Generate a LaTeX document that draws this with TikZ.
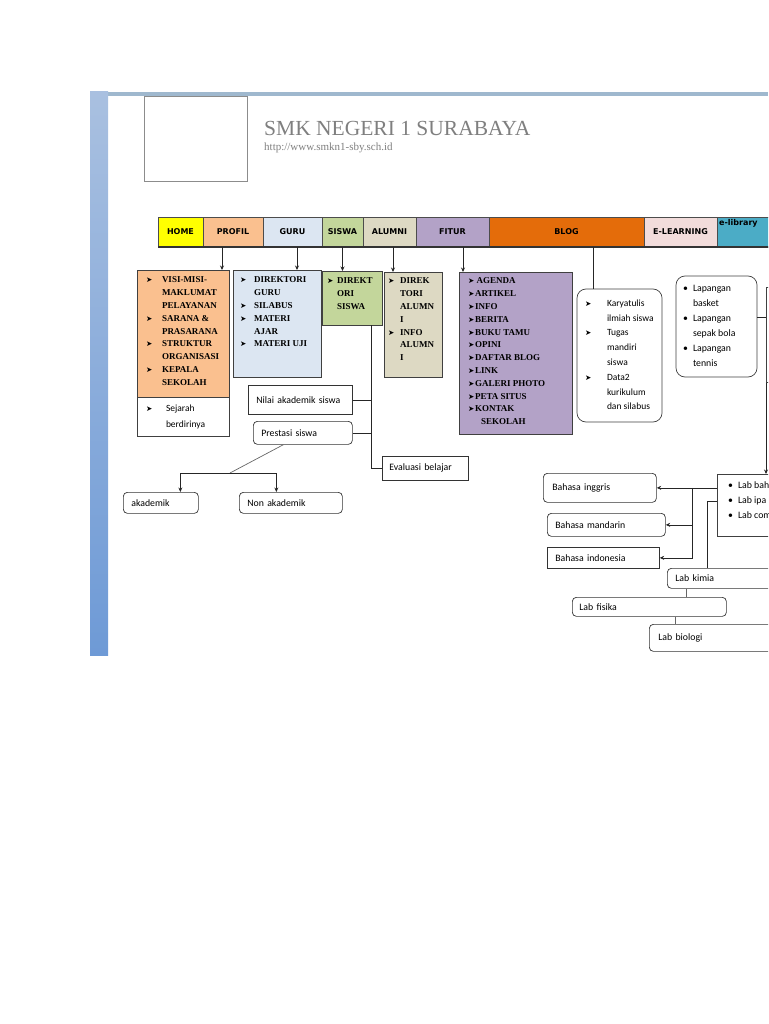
\documentclass[tikz,border=0pt]{standalone}
\usepackage{fontspec}
\setmainfont{Liberation Serif}
\newfontfamily\calfont{Carlito}
\newfontfamily\menufont{DejaVu Sans}
\usetikzlibrary{arrows.meta,calc,positioning}
\definecolor{cHome}{HTML}{FFFF00}
\definecolor{cProfil}{HTML}{FAC08F}
\definecolor{cGuru}{HTML}{DCE6F2}
\definecolor{cSiswa}{HTML}{C3D69B}
\definecolor{cAlumni}{HTML}{DDD9C3}
\definecolor{cFitur}{HTML}{B3A2C7}
\definecolor{cBlog}{HTML}{E46C0A}
\definecolor{cElearn}{HTML}{F2DCDB}
\definecolor{cElib}{HTML}{4BACC6}
\definecolor{cFrame}{HTML}{9FB8CE}
\definecolor{cBarTop}{HTML}{A9C0E0}
\definecolor{cBarMid}{HTML}{5680BA}
\definecolor{cBarBot}{HTML}{6E9AD6}
\definecolor{cTitle}{HTML}{7F7F7F}
\newcommand{\mk}{{\menufont\fontsize{7.5}{7.5}\selectfont ➤}}
\newcommand{\inbox}[3]{\parbox[t][#2][t]{#1}{#3}}
\tikzset{
  menu/.style     = {draw=black!70, minimum height=30pt, inner sep=0pt, outer sep=0pt,
                     anchor=north west, font=\menufont\bfseries\fontsize{8}{9}\selectfont},
  listbox/.style  = {draw=black!75, line width=0.7pt, anchor=north west, outer sep=0pt,
                     font=\bfseries\fontsize{9}{12.8}\selectfont},
  softlist/.style = {listbox, rounded corners=9pt},
  plainbox/.style = {draw=black!80, line width=0.7pt, anchor=north west, align=left,
                     inner ysep=0pt, inner xsep=8pt, font=\calfont\fontsize{9.8}{12}\selectfont},
  softbox/.style  = {plainbox, rounded corners=4pt},
  link/.style     = {line width=0.7pt, black!85},
  arr/.style      = {link, -{Stealth[length=4.5pt,width=4pt]}},
}

\begin{document}
\begin{tikzpicture}[x=1pt,y=-1pt]
  \useasboundingbox (0,0) rectangle (768,1024);
  \clip (0,0) rectangle (768,1024);
  % page frame
  \fill[cFrame] (90,92) rectangle (768,96);
  \shade[top color=cBarTop, middle color=cBarMid, bottom color=cBarBot] (90,92) rectangle (108,655);

  % header
  \node[draw=black!45, minimum width=103pt, minimum height=85pt, inner sep=0pt, anchor=north west] (logo) at (144,96) {};
  \node[anchor=base west, inner sep=0pt, text=cTitle, font=\fontsize{21.5}{24}\selectfont] (title) at (264,136) {SMK NEGERI 1 SURABAYA};
  \node[anchor=base west, inner sep=0pt, text=cTitle, font=\fontsize{11}{13}\selectfont] (url) at (264,151) {http://www.smkn1-sby.sch.id};

  % menu bar
  \node[menu, fill=cHome, minimum width=45pt] (mhome) at (158,217) {HOME};
  \node[menu, fill=cProfil, minimum width=60pt, right=0pt of mhome] (mprofil) {PROFIL};
  \node[menu, fill=cGuru, minimum width=59pt, right=0pt of mprofil] (mguru) {GURU};
  \node[menu, fill=cSiswa, minimum width=41pt, right=0pt of mguru] (msiswa) {SISWA};
  \node[menu, fill=cAlumni, minimum width=53pt, right=0pt of msiswa] (malumni) {ALUMNI};
  \node[menu, fill=cFitur, minimum width=73pt, right=0pt of malumni] (mfitur) {FITUR};
  \node[menu, fill=cBlog, minimum width=155pt, right=0pt of mfitur] (mblog) {BLOG};
  \node[menu, fill=cElearn, minimum width=73pt, right=0pt of mblog] (melearn) {E-LEARNING};
  \node[menu, fill=cElib, minimum width=80pt, right=0pt of melearn,
        label={[anchor=north west, inner sep=2pt, font=\menufont\bfseries\fontsize{8}{9}\selectfont]north west:e-library}] (melib) {};
  \draw[line width=1.2pt, black!80] (mhome.south west) -- (melib.south east);

  % profil
  \node[listbox, fill=cProfil, inner xsep=9pt, inner ysep=4pt] (profil) at (137,270) {\inbox{74pt}{119pt}{%
    \begin{tabular}{@{}p{16pt}@{}l@{}}
    \mk & VISI-MISI-\\ & MAKLUMAT\\ & PELAYANAN\\
    \mk & SARANA \&\\ & PRASARANA\\
    \mk & STRUKTUR\\ & ORGANISASI\\
    \mk & KEPALA\\ & SEKOLAH
    \end{tabular}}};
  \node[listbox, fill=white, inner xsep=9pt, inner ysep=3pt, below=0pt of profil,
        font=\calfont\fontsize{9.5}{16}\selectfont] (sejarah) {\inbox{74pt}{33pt}{%
    \begin{tabular}{@{}p{20pt}@{}l@{}}
    \mk & Sejarah\\ & berdirinya
    \end{tabular}}};

  % guru, siswa, alumni, fitur
  \node[listbox, fill=cGuru, inner xsep=7pt, inner ysep=4pt] (guru) at (233,270) {\inbox{74pt}{99pt}{%
    \begin{tabular}{@{}p{14pt}@{}l@{}}
    \mk & DIREKTORI\\ & GURU\\
    \mk & SILABUS\\
    \mk & MATERI\\ & AJAR\\
    \mk & MATERI UJI
    \end{tabular}}};
  \node[listbox, fill=cSiswa, inner xsep=5pt, inner ysep=4pt] (siswa) at (322,271) {\inbox{50pt}{46pt}{%
    \begin{tabular}{@{}p{10pt}@{}l@{}}
    \mk & DIREKT\\ & ORI\\ & SISWA
    \end{tabular}}};
  \node[listbox, fill=cAlumni, inner xsep=4pt, inner ysep=3pt] (alumni) at (384,272) {\inbox{50pt}{99pt}{%
    \begin{tabular}{@{}p{12pt}@{}l@{}}
    \mk & DIREK\\ & TORI\\ & ALUMN\\ & I\\
    \mk & INFO\\ & ALUMN\\ & I
    \end{tabular}}};
  \node[listbox, fill=cFitur, inner xsep=9pt, inner ysep=3pt] (fitur) at (459,272) {\inbox{95pt}{156pt}{%
    \begin{tabular}{@{}p{7pt}@{}l@{}}
    \mk & \,AGENDA\\ \mk & ARTIKEL\\ \mk & INFO\\ \mk & BERITA\\
    \mk & BUKU TAMU\\ \mk & OPINI\\ \mk & DAFTAR BLOG\\ \mk & LINK\\
    \mk & GALERI PHOTO\\ \mk & PETA SITUS\\ \mk & KONTAK\\ & \hspace*{6pt}SEKOLAH
    \end{tabular}}};

  % blog, lapangan
  \node[softlist, fill=white, inner xsep=8pt, inner ysep=7pt,
        font=\calfont\fontsize{9.5}{14.8}\selectfont] (karya) at (577,289) {\inbox{69pt}{119pt}{%
    \begin{tabular}{@{}p{22pt}@{}l@{}}
    \mk & Karyatulis\\ & ilmiah siswa\\
    \mk & Tugas\\ & mandiri\\ & siswa\\
    \mk & Data2\\ & kurikulum\\ & dan silabus
    \end{tabular}}};
  \node[softlist, fill=white, inner xsep=7pt, inner ysep=5pt,
        font=\calfont\fontsize{9.8}{15}\selectfont] (lapangan) at (676,276) {\inbox{67pt}{91pt}{%
    \begin{tabular}{@{}p{10pt}@{}l@{}}
    • & Lapangan\\ & basket\\
    • & Lapangan\\ & sepak bola\\
    • & Lapangan\\ & tennis
    \end{tabular}}};
  \node[draw=black!75, line width=0.7pt, anchor=north west, minimum width=60pt, minimum height=95pt, inner sep=0pt] (fasil) at (766,287) {};
  \node[listbox, fill=white, inner xsep=11pt, inner ysep=3.5pt,
        font=\calfont\fontsize{9.8}{15}\selectfont] (lab) at (717,474) {\inbox{60pt}{55pt}{%
    \begin{tabular}{@{}p{10pt}@{}l@{}}
    • & Lab bahasa\\ • & Lab ipa\\ • & Lab computer
    \end{tabular}}};

  % siswa branches
  \node[plainbox, minimum height=29pt, text width=88pt] (nilai) at (248,385) {Nilai akademik siswa};
  \node[softbox, minimum height=23pt, text width=83pt] (prestasi) at (253,421) {Prestasi siswa};
  \node[plainbox, minimum height=24pt, text width=72pt, inner xsep=7pt] (evaluasi) at (382,456) {Evaluasi belajar};
  \node[softbox, minimum height=21pt, text width=59pt] (akademik) at (123,492) {akademik};
  \node[softbox, minimum height=21pt, text width=87pt] (nonakad) at (239,492) {Non akademik};

  % lab branches
  \node[softbox, minimum height=29pt, text width=95pt, inner xsep=9pt] (binggris) at (543,473) {Bahasa inggris};
  \node[softbox, minimum height=23pt, text width=102pt] (bmandarin) at (547,513) {Bahasa mandarin};
  \node[plainbox, minimum height=21pt, text width=96pt] (bindo) at (547,547) {Bahasa indonesia};
  \node[softbox, minimum height=20pt, text width=104pt] (kimia) at (667,568) {Lab kimia};
  \node[softbox, minimum height=19pt, text width=140pt, inner xsep=7pt] (fisika) at (572,597) {Lab fisika};
  \node[softbox, minimum height=27pt, text width=132pt, inner xsep=9pt] (biologi) at (649,624) {Lab biologi};

  % menu to boxes
  \draw[arr] ([xshift=-11pt]mprofil.south) -- ([xshift=-11pt]mprofil.south |- profil.north);
  \draw[arr] ([xshift=4.5pt]mguru.south) -- ([xshift=4.5pt]mguru.south |- guru.north);
  \draw[arr] (msiswa.south) -- (msiswa.south |- siswa.north);
  \draw[arr] ([xshift=3.5pt]malumni.south) -- ([xshift=3.5pt]malumni.south |- alumni.north);
  \draw[arr] ([xshift=10.5pt]mfitur.south) -- ([xshift=10.5pt]mfitur.south |- fitur.north);
  \draw[link] ([xshift=26.5pt]mblog.south) -- ([xshift=26.5pt]mblog.south |- karya.north);

  % siswa tree
  \coordinate (sbus) at ([xshift=19pt]siswa.south);
  \draw[link] (sbus) |- (evaluasi.west);
  \draw[link] (nilai.east) -- (nilai.east -| sbus);
  \draw[link] (prestasi.east) -- (prestasi.east -| sbus);
  \coordinate (psplit) at (230,473);
  \draw[link, black!60] ([xshift=-19.5pt]prestasi.south) -- (psplit);
  \draw[arr] (psplit) -| ([xshift=19.5pt]akademik.north);
  \draw[arr] (psplit) -| ([xshift=-14.5pt]nonakad.north);

  % fasilitas
  \draw[link] ([yshift=9.5pt]lapangan.east) -- ([yshift=9.5pt]lapangan.east -| fasil.west);
  \draw[arr] (fasil.south west) -- (fasil.south west |- lab.north);
  \draw[arr] (lab.west |- binggris.east) -- (binggris.east);
  \coordinate (bbus) at ($(binggris.east)+(36,0)$);
  \draw[arr] (bbus |- bmandarin.east) -- (bmandarin.east);
  \draw[arr] (bbus) |- (bindo.east);
  \draw[link] ([yshift=4pt]lab.west) -| ([xshift=-20pt]kimia.north);
  \draw[link, black!60] ([xshift=37pt]fisika.north) -- ([xshift=37pt]fisika.north |- kimia.south);
  \draw[link, black!60] ([xshift=26pt]fisika.south) -- ([xshift=26pt]fisika.south |- biologi.north);
\end{tikzpicture}
\end{document}
